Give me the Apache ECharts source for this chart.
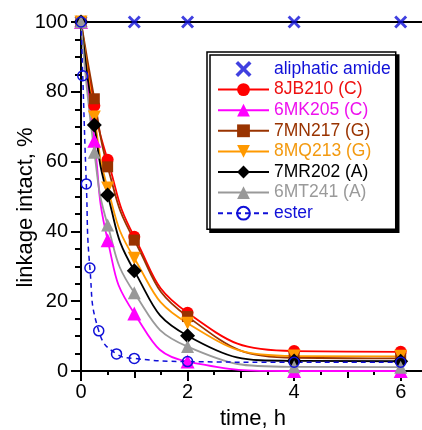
<!DOCTYPE html>
<html>
<head>
<meta charset="utf-8">
<script src="https://cdn.jsdelivr.net/npm/echarts@6/dist/echarts.min.js"></script>
<style>html,body{margin:0;padding:0;background:#fff;}#c{width:422px;height:430px;}</style>
</head>
<body>
<div id="c"></div>
<script>
// time points (h)
const hours = [0, 0.25, 0.5, 1, 2, 4, 6];
const amideHours = [0, 1, 2, 4, 6];
const esterHours = [0, 0.033, 0.1, 0.167, 0.333, 0.667, 1, 2, 4, 6];
// linkage intact, %
const amide = [100, 100, 100, 100, 100];
const jb210 = [100, 76, 60.5, 38.5, 16.7, 5.7, 5.5];
const mk205 = [100, 66, 37.5, 16.5, 2.7, 0, 0];
const mn217 = [100, 78, 58.5, 37.5, 15.6, 3.8, 3.6];
const mq213 = [100, 72.8, 52.4, 32.3, 13.7, 4.3, 4.2];
const mr202 = [100, 70.5, 50.4, 28.7, 10.1, 2.9, 2.8];
const mt241 = [100, 62.7, 41.8, 22.4, 7.0, 1.2, 1.1];
const ester = [100, 84.6, 53.6, 29.5, 11.5, 4.9, 3.6, 2.7, 2.5, 2.5];
// tick positions / labels
const xMajorTicks = [0, 2, 4, 6];
const xMidTicks = [1, 3, 5];
const xMinorTicks = [0.5, 1.5, 2.5, 3.5, 4.5, 5.5];
const xLabels = [0, 2, 4, 6];

const FONT = "'Liberation Sans', Arial, sans-serif";
const pair = (xs, ys) => xs.map((x, i) => [x, ys[i]]);
const xPath = 'path://M0,1.6L1.6,0L5,3.4L8.4,0L10,1.6L6.6,5L10,8.4L8.4,10L5,6.6L1.6,10L0,8.4L3.4,5Z';

function lineSeries(name, xs, ys, color, symbol, size, extra) {
  return Object.assign({
    name, type: 'line', data: pair(xs, ys),
    smooth: 0.5,
    symbol, symbolSize: size,
    itemStyle: { color: color },
    lineStyle: { color: color, width: 1.8 },
    emphasis: { disabled: true },
    z: 3
  }, extra || {});
}
function tickAxis(values, len) {
  return {
    type: 'value', min: 0, max: 6.4, position: 'bottom',
    axisLine: { show: false },
    axisTick: { customValues: values, length: len, lineStyle: { color: '#000', width: 2 } },
    axisLabel: { show: false },
    splitLine: { show: false }
  };
}

const chart = echarts.init(document.getElementById('c'), null, { renderer: 'canvas' });
chart.setOption({
  animation: false,
  backgroundColor: '#fff',
  textStyle: { fontFamily: FONT },
  grid: { left: 81, right: 0, top: 22, bottom: 59, containLabel: false, outerBoundsMode: 'none' },
  xAxis: [
    {
      type: 'value', min: 0, max: 6.4,
      name: 'time, h', nameLocation: 'middle', nameGap: 37, nameMoveOverlap: false,
      nameTextStyle: { fontSize: 22, color: '#000', fontFamily: FONT, padding: [0, 0, 0, 3] },
      axisLine: { onZero: false, lineStyle: { color: '#000', width: 2 } },
      axisTick: { customValues: xMajorTicks, length: 10, lineStyle: { color: '#000', width: 2 } },
      axisLabel: { customValues: xLabels, fontSize: 20, color: '#000', margin: 11, fontFamily: FONT },
      splitLine: { show: false }
    },
    tickAxis(xMidTicks, 7),
    tickAxis(xMinorTicks, 4),
    {
      type: 'value', min: 0, max: 6.4, position: 'top',
      axisLine: { show: true, onZero: false, lineStyle: { color: '#000', width: 2 } },
      axisTick: { show: false },
      axisLabel: { show: false },
      splitLine: { show: false }
    }
  ],
  yAxis: {
    type: 'value', min: 0, max: 100, interval: 20,
    name: 'linkage intact, %', nameLocation: 'middle', nameGap: 44, nameMoveOverlap: false,
    nameTextStyle: { fontSize: 22, color: '#000', fontFamily: FONT, padding: [0, 22, 0, 0] },
    axisLine: { show: true, onZero: false, lineStyle: { color: '#000', width: 2 } },
    axisTick: { show: true, length: 10, lineStyle: { color: '#000', width: 2 } },
    minorTick: { show: true, splitNumber: 4, length: 6, lineStyle: { color: '#000', width: 2 } },
    axisLabel: { fontSize: 20, color: '#000', margin: 13, fontFamily: FONT },
    splitLine: { show: false }
  },
  legend: {
    orient: 'vertical', left: 207, top: 52,
    backgroundColor: '#fff', borderColor: '#000', borderWidth: 1.5,
    shadowColor: '#000', shadowBlur: 0, shadowOffsetX: 3, shadowOffsetY: 3,
    padding: [8, 5, 7, 10], itemGap: 2.6, itemWidth: 51, itemHeight: 16,
    textStyle: { fontSize: 17.5, fontFamily: FONT },
    data: [
      { name: 'aliphatic amide', textStyle: { color: '#1010d8' } },
      { name: '8JB210 (C)', textStyle: { color: '#ee1111' } },
      { name: '6MK205 (C)', textStyle: { color: '#ee11ee' } },
      { name: '7MN217 (G)', textStyle: { color: '#993300' } },
      { name: '8MQ213 (G)', textStyle: { color: '#f39a10' } },
      { name: '7MR202 (A)', textStyle: { color: '#000' } },
      { name: '6MT241 (A)', textStyle: { color: '#9a9a9a' } },
      { name: 'ester', textStyle: { color: '#1010d8' } }
    ]
  },
  series: [
    {
      name: 'aliphatic amide', type: 'scatter', data: pair(amideHours, amide),
      symbol: xPath, symbolSize: 13, itemStyle: { color: '#1010d8' }, z: 2,
      emphasis: { disabled: true }
    },
    lineSeries('8JB210 (C)', hours, jb210, '#ff0000', 'circle', 12),
    lineSeries('6MK205 (C)', hours, mk205, '#ff00ff', 'triangle', 14),
    lineSeries('7MN217 (G)', hours, mn217, '#993300', 'rect', 11),
    lineSeries('8MQ213 (G)', hours, mq213, '#ff9900', 'triangle', 13, { symbolRotate: 180 }),
    lineSeries('7MR202 (A)', hours, mr202, '#000000', 'diamond', 15),
    lineSeries('6MT241 (A)', hours, mt241, '#999999', 'triangle', 13),
    lineSeries('ester', esterHours, ester, '#1010d8', 'circle', 10, {
      itemStyle: { color: 'rgba(0,0,0,0)', borderColor: '#1010d8', borderWidth: 1.5 },
      lineStyle: { color: '#1010d8', width: 1.5, type: [5, 4] }
    })
  ]
});
</script>
</body>
</html>
